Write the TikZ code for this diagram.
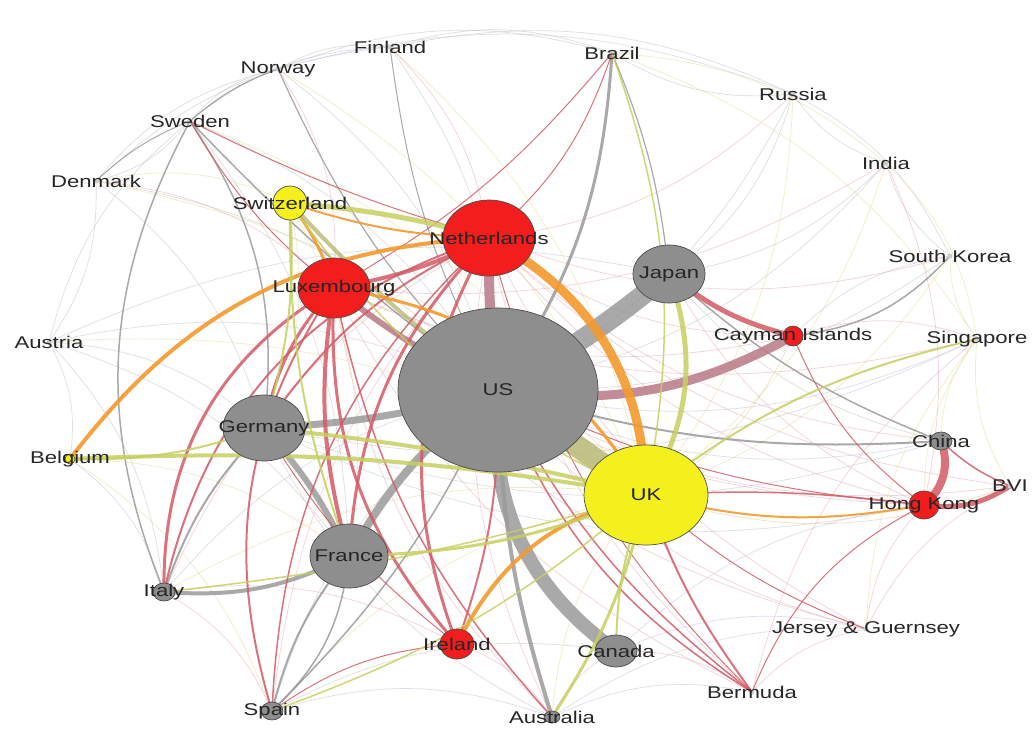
\documentclass[tikz,border=0pt]{standalone}
\usepackage{fontspec}
\setmainfont{Liberation Sans}[FakeStretch=1.3]
\usetikzlibrary{shapes.geometric,backgrounds}
\definecolor{ngray}{HTML}{8E8E8E}
\definecolor{nred}{HTML}{F21D1D}
\definecolor{nyel}{HTML}{F4F01E}
\definecolor{egray}{HTML}{9A9A9A}
\definecolor{ered}{HTML}{D45A66}
\definecolor{emauve}{HTML}{B87A86}
\definecolor{eorange}{HTML}{F39A2C}
\definecolor{eyg}{HTML}{C6CF5E}
\definecolor{eolive}{HTML}{B9B874}
\definecolor{fl}{HTML}{C4C4DA}
\definecolor{fp}{HTML}{E6AEB6}
\definecolor{fy}{HTML}{E2DE9A}
\definecolor{fo}{HTML}{EFC494}
\definecolor{fg}{HTML}{C4C4C4}
\begin{document}
\begin{tikzpicture}[x=1pt,y=-1pt,
  nd/.style={ellipse, draw=black!70, line width=0.7pt, inner sep=0pt},
  gnode/.style={nd, fill=ngray},
  rnode/.style={nd, fill=nred},
  ynode/.style={nd, fill=nyel},
  tnode/.style={ellipse, fill=black!20, minimum width=5pt, minimum height=5pt, inner sep=0pt},
  lbl/.style={font=\fontsize{17}{18}\selectfont, text=black!85, inner sep=0pt},
  ge/.style={draw=egray, line width=#1, opacity=.85},
  re/.style={draw=ered, line width=#1, opacity=.85},
  me/.style={draw=emauve, line width=#1, opacity=.85},
  oe/.style={draw=eorange, line width=#1, opacity=.9},
  ye/.style={draw=eyg, line width=#1, opacity=.85},
  faint/.style={line width=0.7pt, opacity=.55},
]
\useasboundingbox (0,0) rectangle (1035,729);

% ---------------- nodes ----------------
\node[gnode, minimum width=200pt, minimum height=164pt] (US) at (498,390) {};
\node[ynode, minimum width=124pt, minimum height=100pt] (UK) at (646,495) {};
\node[rnode, minimum width=92pt, minimum height=76pt] (NL) at (489,238) {};
\node[rnode, minimum width=72pt, minimum height=60pt] (LU) at (334,288) {};
\node[gnode, minimum width=72pt, minimum height=58pt] (JP) at (669,274) {};
\node[gnode, minimum width=82pt, minimum height=66pt] (DE) at (264,428) {};
\node[gnode, minimum width=78pt, minimum height=64pt] (FR) at (349,556) {};
\node[ynode, minimum width=34pt, minimum height=34pt] (CH) at (290,203) {};
\node[rnode, minimum width=34pt, minimum height=30pt] (IE) at (457,644) {};
\node[gnode, minimum width=42pt, minimum height=32pt] (CA) at (616,651) {};
\node[rnode, minimum width=30pt, minimum height=28pt] (HK) at (924,505) {};
\node[rnode, minimum width=20pt, minimum height=20pt] (KY) at (793,336) {};
\node[gnode, minimum width=22pt, minimum height=18pt] (CN) at (941,441) {};
\node[gnode, minimum width=22pt, minimum height=18pt] (IT) at (164,592) {};
\node[gnode, minimum width=22pt, minimum height=18pt] (ES) at (272,711) {};
\node[ynode, minimum width=10pt, minimum height=10pt] (BE) at (70,459) {};
\node[gnode, minimum width=16pt, minimum height=12pt] (AU) at (552,717) {};
\node[tnode] (BM) at (752,692) {};
\node[tnode] (JE) at (866,629) {};
\node[tnode] (VG) at (1010,486) {};
\node[tnode] (SG) at (977,339) {};
\node[tnode] (KR) at (950,256) {};
\node[tnode] (IN) at (886,163) {};
\node[tnode] (RU) at (793,94) {};
\node[tnode] (BR) at (612,53) {};
\node[tnode] (FI) at (390,47) {};
\node[tnode] (NO) at (278,69) {};
\node[tnode] (SE) at (190,121) {};
\node[tnode] (DK) at (96,181) {};
\node[tnode] (AT) at (49,342) {};

% ---------------- edges ----------------
\begin{scope}[on background layer]
\fill[white] (0,0) rectangle (1035,729);
% faint web
\foreach \a/\b/\c in {FI/BR/fg, NO/FI/fg, SE/NO/fg, SE/DK/fg, DK/AT/fg, AT/BE/fl, BE/IT/fl,
  IT/ES/fp, ES/AU/fl, AU/BM/fl, BM/JE/fp, JE/VG/fp, VG/SG/fy, SG/KR/fy, KR/IN/fg, IN/RU/fg,
  RU/BR/fg, NO/BR/fg, SE/FI/fg, FI/RU/fg, NO/RU/fl, DK/NO/fg, DK/FI/fl, AT/SE/fg, BR/IN/fy,
  RU/KR/fl, IE/AU/fp, AU/CA/fg, CA/BM/fp, JE/HK/fp, HK/SG/fy, CN/SG/fy, IN/SG/fy,
  DK/US/fg, AT/US/fl, AT/UK/fy, AT/JP/fl, DK/UK/fy, NO/UK/fy, FI/UK/fy, FI/US/fg,
  NO/US/fg, RU/US/fg, RU/UK/fy, IN/US/fg, IN/UK/fy, IN/HK/fp, KR/US/fg, KR/UK/fy,
  SG/US/fl, SG/DE/fl, SG/LU/fp, JE/US/fp, JE/LU/fp, JE/NL/fp, BM/NL/fp, BM/LU/fp,
  AU/NL/fp, AU/LU/fp, AU/DE/fg, ES/NL/fp, ES/UK/fy, IT/NL/fp, IT/UK/fy, CN/US/fl,
  CN/NL/fp, CN/DE/fl, CN/JP/fg, HK/NL/fp, HK/LU/fp, HK/DE/fl, HK/JP/fp, VG/US/fp,
  VG/UK/fo, VG/NL/fp, KY/UK/fo, KY/LU/fp, KY/NL/fp, SE/UK/fy, SE/US/fg, CH/DE/fy,
  CH/FR/fy, DK/DE/fg, DK/LU/fp, AT/DE/fg, AT/FR/fl, AT/IT/fg, BE/FR/fy, BE/ES/fy,
  IT/IE/fp, ES/CA/fg, AU/JE/fl, BM/SG/fp, JE/SG/fy, CA/HK/fl, CA/JE/fl, KY/SG/fp,
  KY/KR/fl, IN/JP/fg, RU/JP/fg, RU/NL/fp, BR/SG/fy, KR/NL/fp, IN/LU/fp, FI/NL/fp,
  NO/LU/fp, DK/CH/fy, SE/FR/fg, ES/US/fg, IT/US/fg, AU/UK/fy, BM/US/fp}
  \draw[faint, draw=\c] (\a.center) to[bend left=18] (\b.center);

% gray edges
\draw[ge=20pt] (US.center) to[bend right=5] (JP.center);
\draw[ge=14pt] (US.center) to[bend right=30] (CA.center);
\draw[ge=7pt] (DE.center) to[bend right=6] (US.center);
\draw[ge=8pt] (FR.center) to[bend left=12] (US.center);
\draw[ge=6pt] (DE.center) to[bend left=8] (FR.center);
\draw[ge=4pt] (IT.center) to[bend right=15] (FR.center);
\draw[ge=4pt] (US.center) to[bend right=8] (AU.center);
\draw[ge=3pt] (US.center) to[bend right=15] (BR.center);
\draw[ge=2pt] (DE.center) to[bend right=12] (IT.center);
\draw[ge=2pt] (FR.center) to[bend right=12] (ES.center);
\draw[ge=1.5pt] (ES.center) to[bend right=20] (FR.center);
\draw[ge=2pt] (US.center) to[bend right=10] (CN.center);
\draw[ge=1.5pt] (JP.center) to[bend right=10] (CN.center);
\draw[ge=1.5pt] (SE.center) to[bend right=5] (US.center);
\draw[ge=1.5pt] (DE.center) to[bend right=20] (SE.center);
\draw[ge=1.5pt] (IT.center) to[bend left=25] (SE.center);
\draw[ge=1.2pt] (NO.center) to[bend right=10] (US.center);
\draw[ge=1.2pt] (NO.center) to[bend right=10] (SE.center);
\draw[ge=1pt] (SE.center) to[bend right=10] (DK.center);
\draw[ge=1pt] (FI.center) to[bend right=10] (US.center);
\draw[ge=1.5pt] (KY.center) to[bend right=20] (KR.center);
\draw[ge=1.2pt] (JP.center) to[bend right=8] (BR.center);
\draw[ge=1.5pt] (ES.center) to[bend right=10] (US.center);
\draw[eolive, line width=22pt, opacity=.85] (US.center) -- (UK.center);
\draw[eolive, line width=4pt, opacity=.8] (CH.center) to[bend right=5] (US.center);

% red / mauve edges
\draw[me=10pt] (NL.center) to[bend right=4] (US.center);
\draw[me=6pt] (LU.center) to[bend right=6] (US.center);
\draw[me=9pt] (US.center) to[bend right=18] (KY.center);
\draw[re=5pt] (JP.center) to[bend right=12] (KY.center);
\draw[re=8pt] (HK.center) to[bend right=35] (CN.center);
\draw[re=5pt] (HK.center) to[bend right=20] (VG.center);
\draw[re=1.5pt] (CN.center) to[bend right=10] (VG.center);
\draw[re=3pt] (LU.center) to[bend right=30] (IT.center);
\draw[re=2pt] (LU.center) to[bend right=25] (ES.center);
\draw[re=3pt] (LU.center) to[bend right=22] (IE.center);
\draw[re=4pt] (LU.center) to[bend right=12] (FR.center);
\draw[re=3pt] (LU.center) to[bend right=15] (DE.center);
\draw[re=3pt] (NL.center) to[bend right=25] (IE.center);
\draw[re=3pt] (NL.center) to[bend right=20] (FR.center);
\draw[re=2pt] (NL.center) to[bend right=15] (DE.center);
\draw[re=2pt] (NL.center) to[bend right=30] (IT.center);
\draw[re=1.5pt] (NL.center) to[bend right=22] (ES.center);
\draw[re=1.5pt] (LU.center) to[bend right=15] (AU.center);
\draw[re=2pt] (IE.center) to[bend right=10] (US.center);
\draw[re=1.5pt] (US.center) to[bend right=12] (BM.center);
\draw[re=1.5pt] (US.center) to[bend right=18] (BM.center);
\draw[re=2pt] (UK.center) to[bend right=8] (BM.center);
\draw[re=1pt] (NL.center) to[bend right=15] (BM.center);
\draw[re=1.5pt] (UK.center) to[bend left=5] (HK.center);
\draw[re=1pt] (HK.center) to[bend right=20] (BM.center);
\draw[re=1pt] (KY.center) to[bend right=15] (HK.center);
\draw[re=4pt] (LU.center) to[bend right=8] (NL.center);
\draw[re=1pt] (IE.center) to[bend right=15] (ES.center);
\draw[re=1pt] (SE.center) to[bend right=10] (LU.center);
\draw[re=1pt] (SE.center) to[bend right=5] (NL.center);
\draw[re=1pt] (NL.center) to[bend right=15] (BR.center);
\draw[re=1pt] (LU.center) to[bend right=10] (BR.center);
\draw[re=1pt] (US.center) to[bend right=10] (HK.center);
\draw[re=1pt] (UK.center) to[bend right=10] (JE.center);
\draw[re=1pt] (DE.center) to[bend right=10] (IE.center);

% orange edges
\draw[oe=9pt] (UK.center) to[bend right=30] (NL.center);
\draw[oe=4pt] (UK.center) to[bend right=25] (IE.center);
\draw[oe=4pt] (NL.center) to[bend right=25] (BE.center);
\draw[oe=2pt] (UK.center) to[bend right=12] (HK.center);
\draw[oe=3pt] (CH.center) to[bend left=10] (LU.center);
\draw[oe=3pt] (LU.center) to[bend left=25] (UK.center);
\draw[oe=2pt] (CH.center) to[bend right=8] (NL.center);

% yellow-green edges
\draw[ye=5pt] (UK.center) to[bend right=25] (JP.center);
\draw[ye=5pt] (CH.center) to[bend left=5] (NL.center);
\draw[ye=4pt] (BE.center) to[bend left=6] (UK.center);
\draw[ye=4pt] (DE.center) to[bend left=4] (UK.center);
\draw[ye=3pt] (FR.center) to[bend right=10] (UK.center);
\draw[ye=3pt] (UK.center) to[bend left=10] (AU.center);
\draw[ye=2pt] (UK.center) to[bend left=12] (SG.center);
\draw[ye=2pt] (CH.center) to[bend left=10] (DE.center);
\draw[ye=2pt] (CH.center) to[bend right=10] (FR.center);
\draw[ye=2pt] (UK.center) to[bend right=10] (CA.center);
\draw[ye=2pt] (BE.center) to[bend right=10] (DE.center);
\draw[ye=1.5pt] (UK.center) to[bend left=10] (ES.center);
\draw[ye=1.5pt] (UK.center) to[bend left=5] (IT.center);
\draw[ye=1.5pt] (UK.center) to[bend right=15] (BR.center);
\draw[ye=1.5pt] (CH.center) to[bend right=15] (UK.center);
\end{scope}

% ---------------- labels ----------------
\node[lbl] (US-l) at (US) {US};
\node[lbl] (UK-l) at (UK) {UK};
\node[lbl] (NL-l) at (NL) {Netherlands};
\node[lbl] (LU-l) at (LU) {Luxembourg};
\node[lbl] (JP-l) at (JP) {Japan};
\node[lbl] (DE-l) at (DE) {Germany};
\node[lbl] (FR-l) at (FR) {France};
\node[lbl] (CH-l) at (CH) {Switzerland};
\node[lbl] (IE-l) at (IE) {Ireland};
\node[lbl] (CA-l) at (CA) {Canada};
\node[lbl] (HK-l) at (HK) {Hong Kong};
\node[lbl] (KY-l) at (KY) {Cayman Islands};
\node[lbl] (CN-l) at (CN) {China};
\node[lbl] (IT-l) at (IT) {Italy};
\node[lbl] (ES-l) at (ES) {Spain};
\node[lbl] (BE-l) at (BE) {Belgium};
\node[lbl] (AU-l) at (AU) {Australia};
\node[lbl] (BM-l) at (BM) {Bermuda};
\node[lbl] (JE-l) at (JE) {Jersey \& Guernsey};
\node[lbl] (VG-l) at (VG) {BVI};
\node[lbl] (SG-l) at (SG) {Singapore};
\node[lbl] (KR-l) at (KR) {South Korea};
\node[lbl] (IN-l) at (IN) {India};
\node[lbl] (RU-l) at (RU) {Russia};
\node[lbl] (BR-l) at (BR) {Brazil};
\node[lbl] (FI-l) at (FI) {Finland};
\node[lbl] (NO-l) at (NO) {Norway};
\node[lbl] (SE-l) at (SE) {Sweden};
\node[lbl] (DK-l) at (DK) {Denmark};
\node[lbl] (AT-l) at (AT) {Austria};
\end{tikzpicture}
\end{document}
